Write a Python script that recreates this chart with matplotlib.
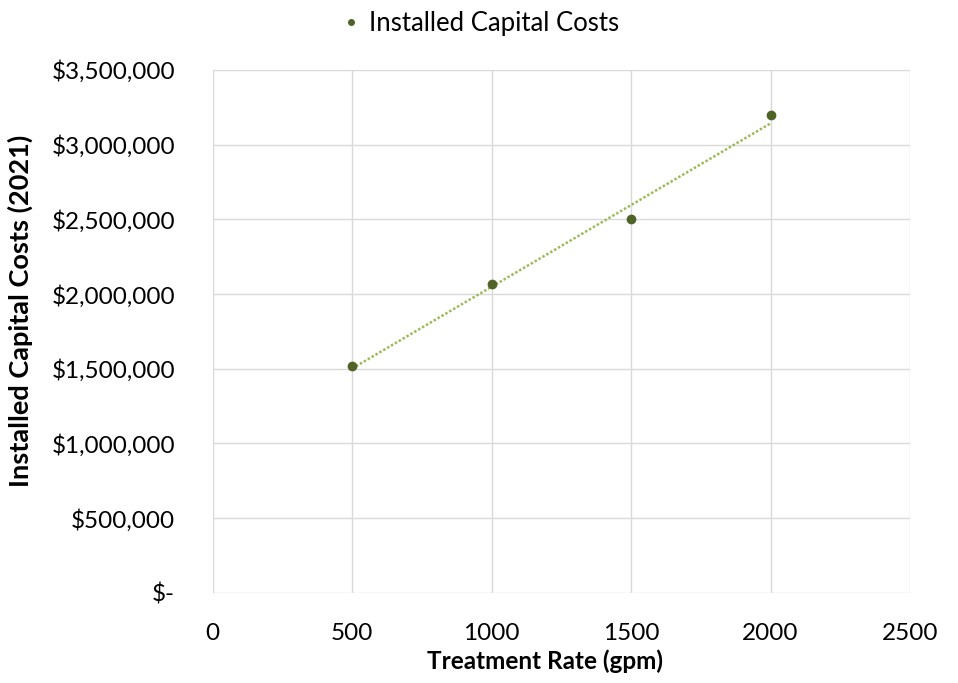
import matplotlib
matplotlib.use("Agg")
import matplotlib.pyplot as plt
import numpy as np
from matplotlib.ticker import FuncFormatter, MultipleLocator
from matplotlib.lines import Line2D

plt.rcParams['font.family'] = ['Lato', 'DejaVu Sans']

treatment_rate = [500, 1000, 1500, 2000]
capital_costs = [1520000, 2070000, 2500000, 3200000]
series_name = "Installed Capital Costs"

fig = plt.figure(figsize=(9.58, 6.83), dpi=100)
ax = fig.add_axes([0.222, 0.132, 0.728, 0.7655])

marker_color = "#4F6228"
trend_color = "#9BBB59"

# trendline (linear fit)
coef = np.polyfit(treatment_rate, capital_costs, 1)
xt = np.array([min(treatment_rate), max(treatment_rate)])
ax.plot(xt, np.polyval(coef, xt), linestyle=(0, (1, 0.8)), color=trend_color, lw=1.8, zorder=2)

ax.plot(treatment_rate, capital_costs, linestyle='none', marker='o', markersize=6,
        color=marker_color, zorder=3)

ax.set_xlim(0, 2500)
ax.set_ylim(0, 3500000)
ax.xaxis.set_major_locator(MultipleLocator(500))
ax.yaxis.set_major_locator(MultipleLocator(500000))

def yfmt(v, pos):
    if abs(v) < 1:
        return "$-"
    return "${:,.0f}".format(v)
ax.yaxis.set_major_formatter(FuncFormatter(yfmt))

ax.grid(True, color="#D9D9D9", lw=1)
ax.set_axisbelow(True)
for s in ax.spines.values():
    s.set_visible(False)
ax.tick_params(length=0, labelsize=17.5, colors="#000000")
ax.tick_params(axis='y', pad=27)
ax.tick_params(axis='x', pad=22)

ax.set_xlabel("Treatment Rate (gpm)", fontsize=17.5, fontweight='bold')
ax.set_ylabel("Installed Capital Costs (2021)", fontsize=19.5, fontweight='bold')
ax.xaxis.set_label_coords(0.476, -0.108)
ax.yaxis.set_label_coords(-0.258, 0.54)

handle = Line2D([], [], linestyle='none', marker='o', markersize=4, color=marker_color)
fig.legend([handle], [series_name], loc='center', bbox_to_anchor=(0.5, 0.966),
           frameon=False, fontsize=18.5, handletextpad=0.2, handlelength=1)

fig.savefig("out.png", dpi=100)
